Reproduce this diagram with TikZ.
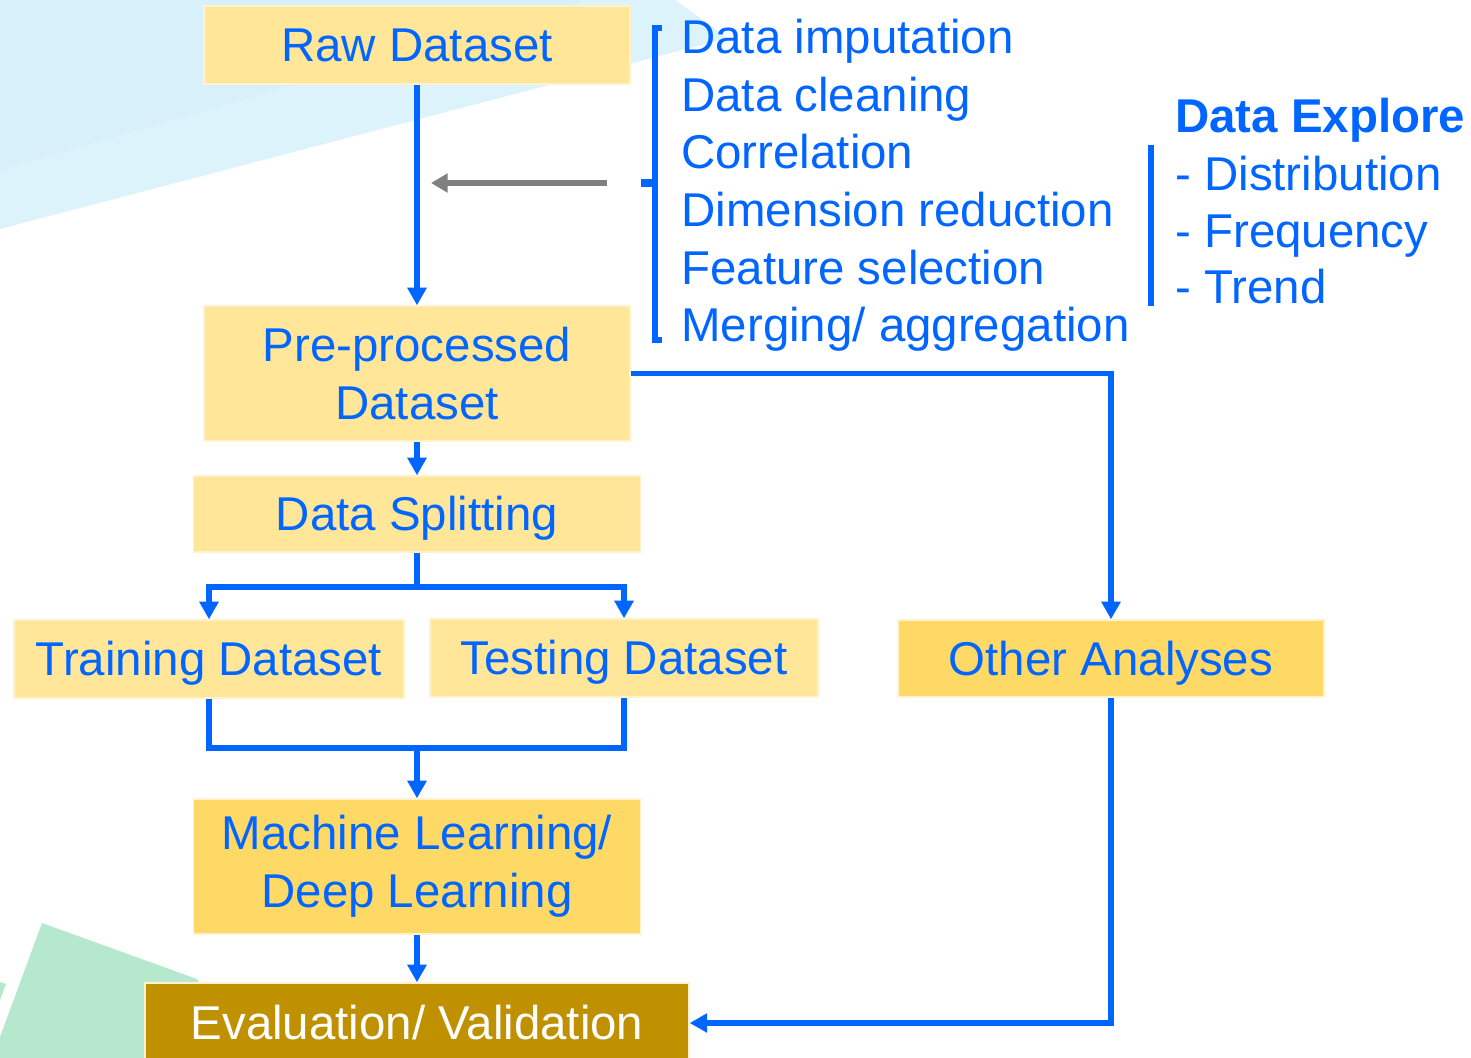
\documentclass[tikz,border=0pt]{standalone}
\usepackage{fontspec}
\setmainfont{Liberation Sans}
\usetikzlibrary{arrows, arrows.meta}
\usetikzlibrary{calc}

\definecolor{flowblue}{HTML}{0066FF}
\definecolor{boxlight}{HTML}{FFE699}
\definecolor{boxdark}{HTML}{FFD966}
\definecolor{boxedge}{HTML}{FFF2CC}
\definecolor{evalfill}{HTML}{BF9000}
\definecolor{arrowgrey}{HTML}{808080}
\definecolor{skyouter}{HTML}{DDF3FB}
\definecolor{skyinner}{HTML}{D8F0FA}
\definecolor{mint}{HTML}{B5E8CC}

\begin{document}
\begin{tikzpicture}[x=0.02cm, y=-0.02cm,
    stage/.style={draw=boxedge, line width=0.8pt, fill=boxlight, text=flowblue,
      font=\fontsize{27}{32.8}\selectfont, align=center},
    oneline/.style={text height=20.3pt, text depth=1.3pt},
    note/.style={anchor=base west, inner sep=0pt, text=flowblue,
      font=\fontsize{27}{32.8}\selectfont},
    flow/.style={draw=flowblue, line width=2.9pt, -{Triangle[length=10pt, width=10.5pt]}},
    flowline/.style={draw=flowblue, line width=2.9pt},
    greyarrow/.style={draw=arrowgrey, line width=3pt, -{Triangle[length=9.5pt, width=10.5pt]}},
    bracket/.style={draw=flowblue, line width=3.4pt}]

      \useasboundingbox (0,0) rectangle (1471,1058);
      \fill[white] (0,0) rectangle (1471,1058);

      % background shapes
      \fill[skyouter] (0,0) -- (675,0) -- (728,38) -- (0,229) -- cycle;
      \fill[skyinner] (0,0) -- (586,0) -- (0,170) -- cycle;
      \fill[mint] (42,923) -- (197,979) -- (250,1058) -- (0,1058) -- (0,1037) -- cycle;
      \fill[mint] (0,982) -- (6,984) -- (0,1000) -- cycle;

      % stages
      \node[stage, oneline, minimum width=8.52cm, minimum height=1.56cm] (raw) at (417,45) {Raw Dataset};
      \node[stage, minimum width=8.52cm, minimum height=2.7cm] (pre) at (417,373.5) {Pre-processed\\Dataset};
      \node[stage, oneline, minimum width=8.94cm, minimum height=1.52cm] (split) at (417,514) {Data Splitting};
      \node[stage, oneline, minimum width=7.8cm, minimum height=1.56cm] (train) at (209,659) {Training Dataset};
      \node[stage, oneline, minimum width=7.76cm, minimum height=1.56cm] (test) at (624,658) {Testing Dataset};
      \node[stage, oneline, fill=boxdark, minimum width=8.52cm, minimum height=1.54cm] (other) at (1111,658.5) {Other Analyses};
      \node[stage, fill=boxdark, minimum width=8.94cm, minimum height=2.7cm] (ml) at (417,866.5) {Machine Learning/\\Deep Learning};
      \node[stage, oneline, fill=evalfill, text=white, minimum width=10.88cm, minimum height=1.6cm] (eval) at (417,1023) {Evaluation/ Validation};

      % pre-processing steps
      \node[note] (imput) at (681,53) {Data imputation};
      \node[note] (clean) at (681,111) {Data cleaning};
      \node[note] (corr) at (681,168) {Correlation};
      \node[note] (dimred) at (681,226) {Dimension reduction};
      \node[note] (feat) at (681,284) {Feature selection};
      \node[note] (merge) at (681,341) {Merging/ aggregation};

      \draw[bracket] (662,28) -- (655,28) -- (655,340) -- (662,340);
      \draw[bracket, line width=4pt] (641,183) -- (655,183);

      % data explore
      \node[note, font=\fontsize{27}{32.8}\selectfont\bfseries] (explore) at (1175,132) {Data Explore};
      \node[note] (distr) at (1175,190) {- Distribution};
      \node[note] (freq) at (1175,247) {- Frequency};
      \node[note] (trend) at (1175,303) {- Trend};
      \draw[bracket, line width=3.2pt] (1151,145) -- (1151,306);

      \coordinate (gfrom) at (607,183);
      \coordinate (gto) at (431,183);
      \coordinate (fork) at (417,587);
      \coordinate (join) at (417,748);

      % connectors
      \draw[flow] (raw) -- (pre);
      \draw[greyarrow] (gfrom) -- (gto);
      \draw[flow] (pre) -- (split);
      \draw[flow] (pre.east) -| (other.north);
      \draw[flow] (split.south) -- (fork) -| (train.north);
      \draw[flow] (fork) -| (test.north);
      \draw[flowline] (train.south) |- (join) -| (test.south);
      \draw[flow] (join) -- (ml.north);
      \draw[flow] (ml) -- (eval);
      \draw[flow] (other.south) |- (eval.east);
\end{tikzpicture}
\end{document}
